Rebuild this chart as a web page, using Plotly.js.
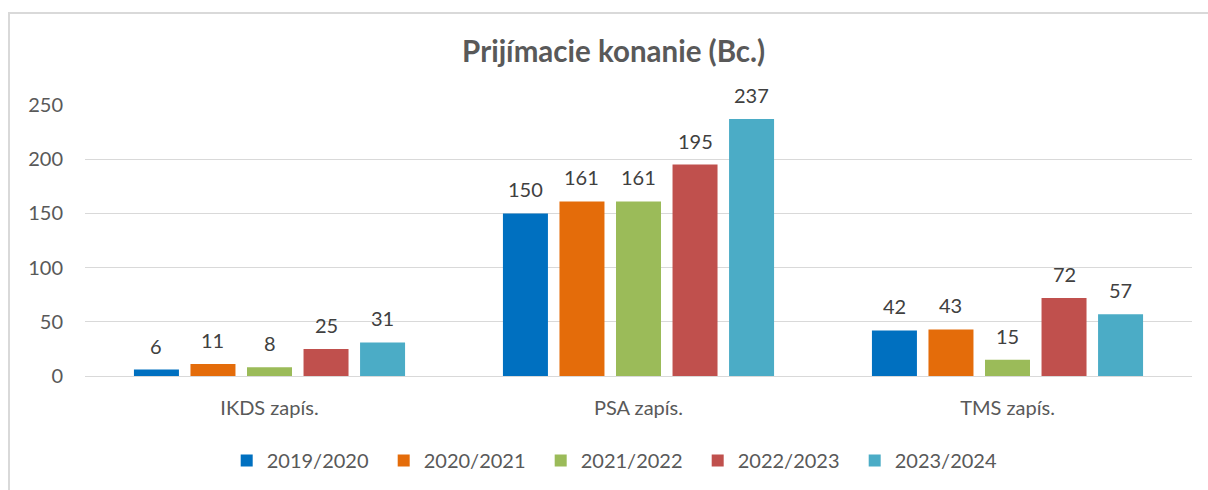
<!DOCTYPE html>
<html><head><meta charset="utf-8">
<script src="https://cdn.plot.ly/plotly-3.0.1.min.js"></script>
<style>
html,body{margin:0;padding:0;background:#fff;overflow:hidden;}
#frame{position:absolute;left:8px;top:12px;width:1220px;height:500px;border:2px solid #d9d9d9;box-sizing:border-box;}
#chart{position:absolute;left:0;top:0;width:1208px;height:490px;}
</style></head>
<body>
<div id="frame"></div>
<div id="chart"></div>
<script>
const categories = ["IKDS zapís.", "PSA zapís.", "TMS zapís."];
const seriesNames = ["2019/2020", "2020/2021", "2021/2022", "2022/2023", "2023/2024"];
const v2019 = [6, 150, 42];
const v2020 = [11, 161, 43];
const v2021 = [8, 161, 15];
const v2022 = [25, 195, 72];
const v2023 = [31, 237, 57];
const colors = ["#0070C0", "#E46C0A", "#9BBB59", "#C0504D", "#4BACC6"];
const allValues = [v2019, v2020, v2021, v2022, v2023];
const fontFam = "Lato, 'Open Sans', sans-serif";
const bargap = 0.234;
const traces = allValues.map((vals, i) => ({
  type: "bar", name: seriesNames[i], x: categories, y: vals,
  marker: {color: colors[i]},
  hoverinfo: "none"
}));
// value labels placed above each bar, positioned through the axes from the data
const slot = (1 - bargap) / allValues.length;
const annotations = [];
allValues.forEach((vals, i) => {
  vals.forEach((v, j) => {
    annotations.push({
      xref: "x", yref: "y", x: j + (i - (allValues.length - 1) / 2) * slot, y: v,
      text: String(v), showarrow: false, yanchor: "bottom", xanchor: "center", yshift: 10,
      font: {family: fontFam, size: 20, color: "#404040"}
    });
  });
});
const layout = {
  width: 1208, height: 490,
  paper_bgcolor: "rgba(0,0,0,0)", plot_bgcolor: "rgba(0,0,0,0)",
  margin: {l: 85, r: 16, t: 105, b: 114, autoexpand: false},
  barmode: "group", bargap: bargap, bargroupgap: 0.204,
  title: {text: "<b>Prijímacie konanie (Bc.)</b>", x: 0.508, xanchor: "center", y: 0.894, yanchor: "middle",
    font: {family: fontFam, size: 29.5, color: "#595959"}},
  xaxis: {showline: true, linecolor: "#d9d9d9", linewidth: 1, ticks: "", showgrid: false,
    ticklabelstandoff: 14,
    tickfont: {family: fontFam, size: 20, color: "#595959"}},
  yaxis: {range: [0, 250], dtick: 50, showgrid: true, gridcolor: "#d9d9d9", gridwidth: 1,
    zeroline: false, ticks: "", ticklabelstandoff: 21,
    tickfont: {family: fontFam, size: 20, color: "#595959"}},
  showlegend: true,
  legend: {orientation: "h", x: 0.128, xanchor: "left", y: -0.24, yanchor: "top",
    entrywidth: 112, entrywidthmode: "pixels",
    font: {family: fontFam, size: 20, color: "#595959"}, traceorder: "normal", itemwidth: 30},
  annotations: annotations,
  font: {family: fontFam}
};
Plotly.newPlot("chart", traces, layout, {staticPlot: true, displayModeBar: false});
</script>
</body></html>
